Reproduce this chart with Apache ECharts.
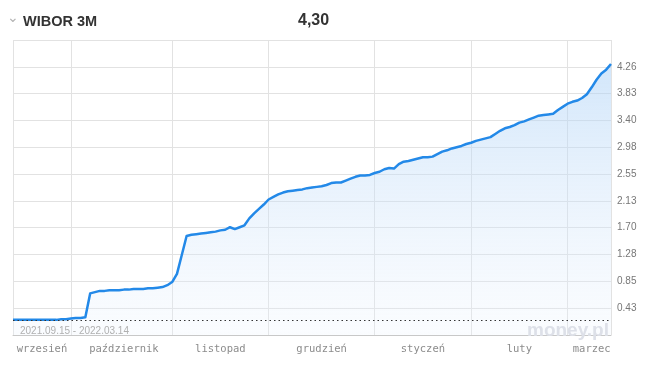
<!DOCTYPE html>
<html>
<head>
<meta charset="utf-8">
<script src="https://cdn.jsdelivr.net/npm/echarts@6/dist/echarts.min.js"></script>
<style>html,body{margin:0;padding:0;background:#fff}#c{width:649px;height:368px}</style>
</head>
<body>
<div id="c"></div>
<script>
// trading days per month (2021.09.15 - 2022.03.14)
const sepDays = [15,16,17,20,21,22,23,24,27,28,29,30];
const octDays = [1,4,5,6,7,8,11,12,13,14,15,18,19,20,21,22,25,26,27,28,29];
const novDays = [2,3,4,5,8,9,10,12,15,16,17,18,19,22,23,24,25,26,29,30];
const decDays = [1,2,3,6,7,8,9,10,13,14,15,16,17,20,21,22,23,27,28,29,30,31];
const janDays = [3,4,5,7,10,11,12,13,14,17,18,19,20,21,24,25,26,27,28,31];
const febDays = [1,2,3,4,7,8,9,10,11,14,15,16,17,18,21,22,23,24,25,28];
const marDays = [1,2,3,4,7,8,9,10,11,14];
const monthNames = ['wrzesień','październik','listopad','grudzień','styczeń','luty','marzec'];
const wibor = [
  0.24,0.24,0.24,0.24,0.24,0.24,0.24,0.24,0.24,0.24,
  0.25,0.25,0.26,0.27,0.27,0.28,0.66,0.68,0.70,0.70,
  0.71,0.71,0.71,0.72,0.72,0.73,0.73,0.73,0.74,0.74,
  0.75,0.76,0.79,0.84,0.97,1.27,1.57,1.59,1.60,1.61,
  1.62,1.63,1.64,1.66,1.67,1.71,1.68,1.71,1.74,1.85,
  1.93,2.00,2.07,2.15,2.19,2.23,2.26,2.28,2.29,2.30,
  2.31,2.33,2.34,2.35,2.36,2.38,2.41,2.42,2.42,2.45,
  2.48,2.51,2.53,2.53,2.54,2.57,2.59,2.63,2.65,2.64,
  2.71,2.75,2.76,2.78,2.80,2.82,2.82,2.83,2.87,2.91,
  2.93,2.96,2.98,3.00,3.03,3.05,3.08,3.10,3.12,3.14,
  3.19,3.24,3.28,3.30,3.33,3.37,3.39,3.42,3.45,3.48,
  3.49,3.50,3.51,3.57,3.62,3.67,3.70,3.72,3.76,3.82,
  3.93,4.05,4.15,4.21,4.30
];
const yTickLabels = ['0.43','0.85','1.28','1.70','2.13','2.55','2.98','3.40','3.83','4.26'];
const yStep = 0.4255;
const baseValue = 0.24;
const rangeText = '2021.09.15 - 2022.03.14';
const titleText = 'WIBOR 3M';
const lastText = '4,30';

const monthSets = [
  ['2021-09', sepDays], ['2021-10', octDays], ['2021-11', novDays], ['2021-12', decDays],
  ['2022-01', janDays], ['2022-02', febDays], ['2022-03', marDays]
];
const dates = [];
const monthOf = [];
const monthStart = new Set();
const monthLabelIdx = new Set();
monthSets.forEach(([ym, days], mi) => {
  const start = dates.length;
  days.forEach(d => { dates.push(ym + '-' + String(d).padStart(2,'0')); monthOf.push(mi); });
  const end = dates.length;
  monthStart.add(start);
  const last = Math.min(end, 124);
  monthLabelIdx.add(Math.round((start + last) / 2 + 0.01));
});
monthStart.add(dates.length - 1);

const chart = echarts.init(document.getElementById('c'));
chart.setOption({
  animation: false,
  title: [
    {text: '⌄', left: 2, top: 6, textStyle: {fontFamily: 'DejaVu Sans', fontSize: 14, color: '#b5b5b5', fontWeight: 'normal'}},
    {text: titleText, left: 18, top: 9, textStyle: {fontFamily: 'Liberation Sans', fontSize: 14.5, fontWeight: 'bold', color: '#333'}},
    {text: lastText, left: 293, top: 8, textStyle: {fontFamily: 'Liberation Sans', fontSize: 16, fontWeight: 'bold', color: '#333'}},
    {text: rangeText, left: 15, top: 321, textStyle: {fontFamily: 'Liberation Sans', fontSize: 10, fontWeight: 'normal', color: '#b0b0b0'}},
    {text: 'money.pl', right: 35, top: 316, textStyle: {fontFamily: 'Liberation Sans', fontSize: 19, fontWeight: 'bold', color: '#dde0e8'}}
  ],
  grid: {left: 13, right: 38, top: 40, bottom: 33},
  xAxis: {
    type: 'category',
    data: dates,
    boundaryGap: false,
    axisLine: {show: true, lineStyle: {color: '#c8c8c8', width: 1}},
    axisTick: {show: false},
    axisLabel: {
      interval: (i) => monthLabelIdx.has(i),
      formatter: (v, i) => monthNames[monthOf[i]],
      fontFamily: 'DejaVu Sans Mono',
      fontSize: 10.5,
      color: '#8c8c8c',
      margin: 9
    },
    splitLine: {show: true, interval: (i) => monthStart.has(i), lineStyle: {color: '#e2e2e2', width: 1}}
  },
  yAxis: {
    type: 'value',
    position: 'right',
    min: 0,
    max: yStep * 11,
    interval: yStep,
    axisLine: {show: false},
    axisTick: {show: false},
    axisLabel: {
      formatter: (v) => { const i = Math.round(v / yStep); return (i >= 1 && i <= 10) ? yTickLabels[i-1] : ''; },
      fontFamily: 'Liberation Sans',
      fontSize: 10,
      color: '#777',
      margin: 6,
      align: 'left'
    },
    splitLine: {show: true, lineStyle: {color: '#e2e2e2', width: 1}}
  },
  series: [{
    type: 'line',
    data: wibor,
    showSymbol: false,
    symbol: 'none',
    lineStyle: {color: '#2389e8', width: 2.5, join: 'round'},
    areaStyle: {
      color: new echarts.graphic.LinearGradient(0, 0, 0, 1, [
        {offset: 0, color: 'rgba(170,208,246,0.75)'},
        {offset: 1, color: 'rgba(235,243,253,0.35)'}
      ])
    },
    markLine: {
      silent: true,
      symbol: 'none',
      label: {show: false},
      lineStyle: {color: '#333', type: [1.5, 3], width: 1},
      data: [{yAxis: baseValue}]
    }
  }]
});
</script>
</body>
</html>
